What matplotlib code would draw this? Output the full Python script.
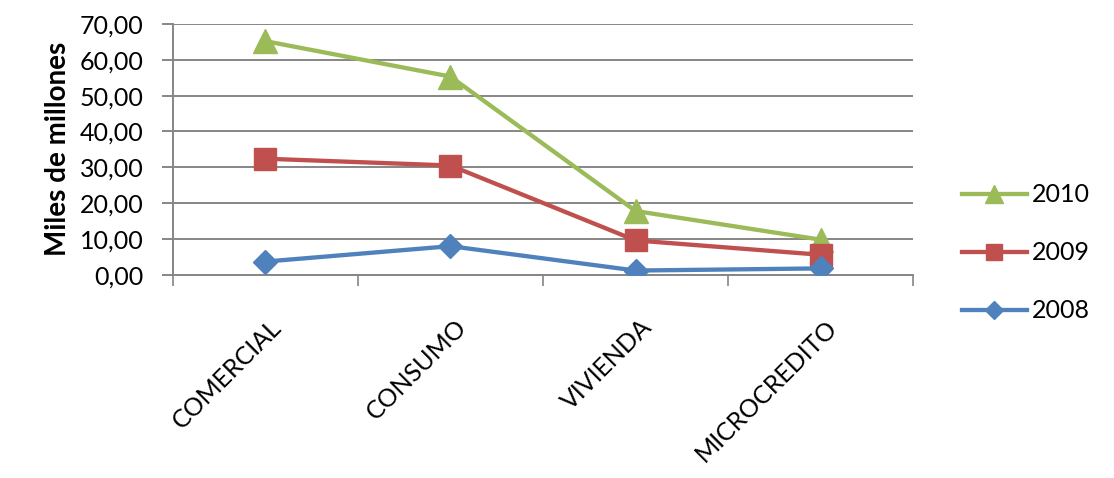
import matplotlib
matplotlib.use("Agg")
import matplotlib.pyplot as plt
import matplotlib.transforms as mtransforms
from matplotlib.ticker import FixedLocator, FuncFormatter

categories = ["COMERCIAL", "CONSUMO", "VIVIENDA", "MICROCREDITO"]
years = ["2010", "2009", "2008"]
values_2010 = [65.2, 55.3, 17.8, 9.8]
values_2009 = [32.4, 30.5, 9.6, 5.6]
values_2008 = [3.7, 8.0, 1.2, 1.8]

series = [
    (values_2010, "#9BBB59", "^", 17),
    (values_2009, "#C0504D", "s", 16),
    (values_2008, "#4F81BD", "D", 12),
]

plt.rcParams["font.family"] = ["Lato", "DejaVu Sans"]

fig = plt.figure(figsize=(11.14, 4.78), dpi=100)
ax = fig.add_axes([0.155, 0.425, 0.665, 0.525])

x = list(range(len(categories)))
for (vals, color, marker, ms), year in zip(series, years):
    ax.plot(x, vals, color=color, lw=3.1, marker=marker, markersize=ms,
            markeredgecolor=color, label=year, zorder=3)

grid_color = "#868686"
ax.set_xlim(-0.5, len(categories) - 0.5)
ax.set_ylim(0, 70)
ax.set_yticks(range(0, 71, 10))
ax.yaxis.set_major_formatter(FuncFormatter(lambda v, p: ("%.2f" % v).replace(".", ",")))
ax.grid(axis="y", color=grid_color, lw=1.4, zorder=0)

# category boundaries get the ticks, labels sit in between
ax.set_xticks(x)
ax.set_xticklabels(categories, rotation=45, ha="right", va="center",
                   rotation_mode="anchor", fontsize=18)
ax.xaxis.set_minor_locator(FixedLocator([i - 0.5 for i in range(len(categories) + 1)]))
ax.tick_params(axis="x", which="major", length=0, pad=35)
ax.tick_params(axis="x", which="minor", length=8, width=1.2, color=grid_color)
ax.tick_params(axis="y", length=8, width=1.4, color=grid_color, pad=13, labelsize=18)
shift = mtransforms.ScaledTranslation(12 / 100, 0, fig.dpi_scale_trans)
for lbl in ax.get_xticklabels():
    lbl.set_transform(lbl.get_transform() + shift)

for side in ["top", "right"]:
    ax.spines[side].set_visible(False)
for side in ["left", "bottom"]:
    ax.spines[side].set_color(grid_color)
    ax.spines[side].set_linewidth(1.4)

ax.set_ylabel("Miles de millones", fontsize=20, fontweight="bold", labelpad=6)

fig.legend(loc="center left", bbox_to_anchor=(0.8635, 0.471), frameon=False,
           fontsize=18, handlelength=2.6, handletextpad=0.2, labelspacing=1.4,
           markerscale=0.75, borderpad=0, borderaxespad=0)

fig.savefig("out.png", dpi=100)
